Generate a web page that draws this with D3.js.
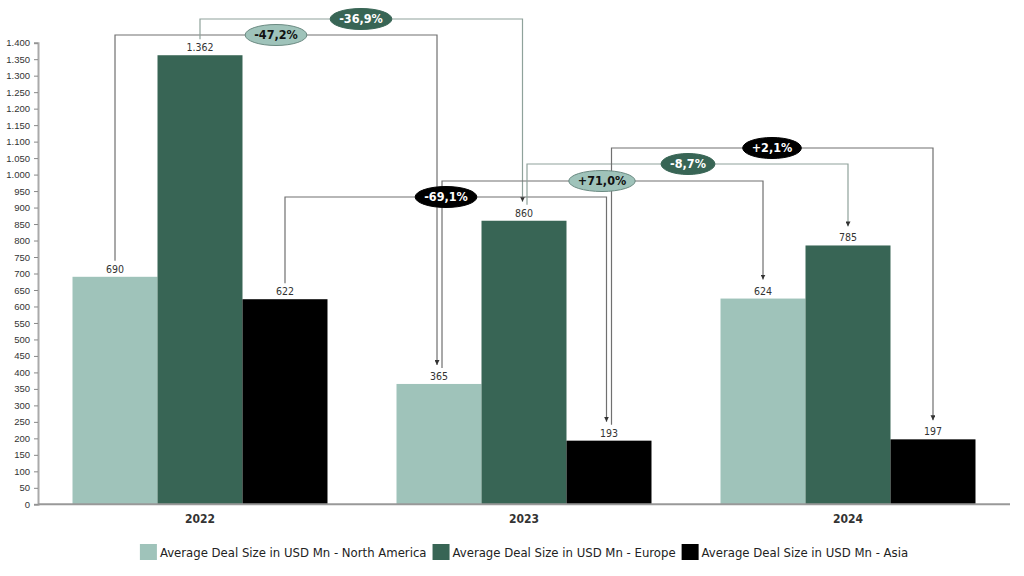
<!DOCTYPE html>
<html>
<head>
<meta charset="utf-8">
<script src="https://cdn.jsdelivr.net/npm/d3@7"></script>
<style>
  body { margin: 0; background: #fff; }
  svg { font-family: "Liberation Sans Narrow", "DejaVu Sans Condensed", sans-serif; }
</style>
</head>
<body>
<div id="chart"></div>
<script>
// data
const years = ["2022", "2023", "2024"];
const seriesNames = [
  "Average Deal Size in USD Mn - North America",
  "Average Deal Size in USD Mn - Europe",
  "Average Deal Size in USD Mn - Asia"
];
const northAmerica = [690, 365, 624];
const europe = [1362, 860, 785];
const asia = [622, 193, 197];
const yTickValues = [0, 50, 100, 150, 200, 250, 300, 350, 400, 450, 500, 550, 600, 650, 700,
  750, 800, 850, 900, 950, 1000, 1050, 1100, 1150, 1200, 1250, 1300, 1350, 1400];

// year-over-year change callouts
const changeLabels = ["-47,2%", "-36,9%", "-69,1%", "+71,0%", "-8,7%", "+2,1%"];
const changeSeries = [0, 1, 2, 0, 1, 2];
const changeFromYear = [0, 0, 0, 1, 1, 1];

// callout layout (pixels)
const calloutLevelY = [35, 19, 197, 181, 164, 148];
const calloutLabelX = [276, 361, 446, 602, 688, 772];
const calloutStartDx = [0, 0, 0, 3, 3, 2.5];
const calloutEndDx = [-2, -1.5, -2.5, 0, 0, 0];

(function () {
  const W = 1024, H = 576;
  const left = 38, right = 1010, top = 42.7, bottom = 504.3;

  const colors = ["#9fc3ba", "#386555", "#000000"];
  const lineColors = ["#707070", "#8fa29b", "#707070"];
  const calloutText = ["#111", "#fff", "#fff"];

  const svg = d3.select("#chart").append("svg")
    .attr("width", W).attr("height", H);

  const fmt = d3.formatLocale({ decimal: ",", thousands: ".", grouping: [3], currency: ["", ""] }).format(",");

  const values = [northAmerica, europe, asia];
  const data = years.map((yr, i) => ({ year: yr, vals: values.map(s => s[i]) }));

  const x0 = d3.scaleBand().domain(years).range([left, right])
    .paddingInner(0.213).paddingOuter(0.1065);
  const x1 = d3.scaleBand().domain(d3.range(3)).range([0, x0.bandwidth()]);
  const y = d3.scaleLinear().domain([0, 1400]).range([bottom, top]);

  // y axis
  const yAxis = svg.append("g").attr("transform", `translate(${left},0)`)
    .call(d3.axisLeft(y).tickValues(yTickValues).tickFormat(fmt).tickSize(4).tickPadding(4));
  yAxis.select(".domain").attr("stroke", "#aaa").attr("stroke-width", 2);
  yAxis.selectAll(".tick line").attr("stroke", "#888");
  yAxis.selectAll(".tick text").attr("font-size", "9.5px").attr("fill", "#333")
    .attr("font-family", null);

  // bars
  const groups = svg.selectAll(".grp").data(data).join("g")
    .attr("class", "grp")
    .attr("transform", d => `translate(${x0(d.year)},0)`);

  groups.selectAll("rect").data(d => d.vals.map((v, k) => ({ v, k }))).join("rect")
    .attr("x", d => x1(d.k))
    .attr("y", d => y(d.v))
    .attr("width", x1.bandwidth())
    .attr("height", d => bottom - y(d.v))
    .attr("fill", d => colors[d.k]);

  groups.selectAll(".val").data(d => d.vals.map((v, k) => ({ v, k }))).join("text")
    .attr("class", "val")
    .attr("x", d => x1(d.k) + x1.bandwidth() / 2)
    .attr("y", d => y(d.v) - 4)
    .attr("text-anchor", "middle")
    .attr("font-size", "10.5px")
    .attr("fill", "#333")
    .text(d => fmt(d.v));

  // x axis line + labels
  svg.append("line")
    .attr("x1", left).attr("x2", right)
    .attr("y1", bottom).attr("y2", bottom)
    .attr("stroke", "#999").attr("stroke-width", 2);

  svg.selectAll(".xlab").data(years).join("text")
    .attr("class", "xlab")
    .attr("x", d => x0(d) + x0.bandwidth() / 2)
    .attr("y", 523)
    .attr("text-anchor", "middle")
    .attr("font-size", "12px")
    .attr("font-weight", "bold")
    .attr("fill", "#333")
    .text(d => d);

  // arrow marker
  svg.append("defs").append("marker")
    .attr("id", "arrow")
    .attr("viewBox", "0 0 10 10")
    .attr("refX", 10).attr("refY", 5)
    .attr("markerWidth", 5).attr("markerHeight", 5)
    .attr("markerUnits", "userSpaceOnUse")
    .attr("orient", "auto")
    .append("path").attr("d", "M0,0L10,5L0,10Z").attr("fill", "#333");

  // callouts
  const barCenter = (yi, s) => x0(years[yi]) + x1(s) + x1.bandwidth() / 2;
  const callouts = changeLabels.map((lab, i) => {
    const s = changeSeries[i], f = changeFromYear[i];
    return {
      lab, s,
      xa: barCenter(f, s) + calloutStartDx[i],
      ya: y(values[s][f]) - 16,
      xb: barCenter(f + 1, s) + calloutEndDx[i],
      yb: y(values[s][f + 1]) - 19,
      level: calloutLevelY[i],
      lx: calloutLabelX[i]
    };
  });

  const cg = svg.append("g");
  cg.selectAll("path").data(callouts).join("path")
    .attr("d", d => `M${d.xa},${d.ya}V${d.level}H${d.xb}V${d.yb}`)
    .attr("fill", "none")
    .attr("stroke", d => lineColors[d.s])
    .attr("stroke-width", 1.2)
    .attr("marker-end", "url(#arrow)");

  const badges = cg.selectAll(".badge").data(callouts).join("g")
    .attr("class", "badge")
    .attr("transform", d => `translate(${d.lx},${d.level})`);
  const ell = badges.append("ellipse")
    .attr("ry", 10.5)
    .attr("fill", d => colors[d.s])
    .attr("stroke", d => d.s === 0 ? "#6b8a82" : colors[d.s])
    .attr("stroke-width", 1);
  const bt = badges.append("text")
    .attr("text-anchor", "middle")
    .attr("dy", "0.35em")
    .attr("font-size", "12.5px")
    .attr("font-weight", "bold")
    .attr("fill", d => calloutText[d.s])
    .text(d => d.lab);
  bt.each(function (d) { d.tw = this.getComputedTextLength(); });
  ell.attr("rx", d => d.tw / 2 + 9);

  // legend
  const lg = svg.append("g");
  const items = lg.selectAll("g").data(seriesNames).join("g");
  items.append("rect").attr("width", 17).attr("height", 16).attr("y", -8)
    .attr("fill", (d, i) => colors[i]);
  items.append("text").attr("x", 20).attr("dy", "0.35em")
    .attr("font-size", "13px").attr("fill", "#222")
    .text(d => d);
  let cx = 0;
  items.each(function () {
    const w = this.getBBox().width;
    d3.select(this).attr("transform", `translate(${cx},0)`);
    cx += w + 6;
  });
  const total = cx - 6;
  lg.attr("transform", `translate(${(left + right) / 2 - total / 2},552)`);
})();
</script>
</body>
</html>
